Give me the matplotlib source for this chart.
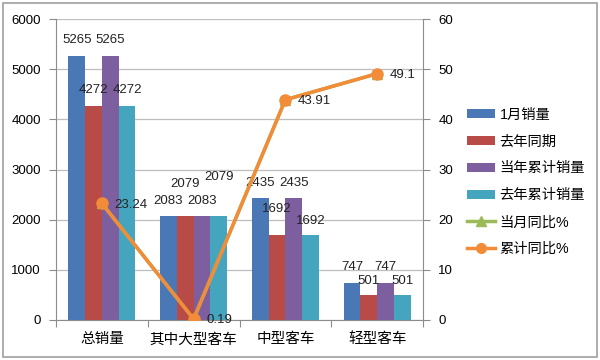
import matplotlib
matplotlib.use("Agg")
import matplotlib.pyplot as plt
from matplotlib.lines import Line2D
from matplotlib.patches import Rectangle, Patch
import numpy as np

plt.rcParams['font.family'] = ['Liberation Sans', 'Noto Sans CJK SC', 'DejaVu Sans']

categories = ['总销量', '其中大型客车', '中型客车', '轻型客车']
series_names = ['1月销量', '去年同期', '当年累计销量', '去年累计销量']
jan_sales = [5265, 2083, 2435, 747]
last_year_same = [4272, 2079, 1692, 501]
ytd_sales = [5265, 2083, 2435, 747]
last_ytd_sales = [4272, 2079, 1692, 501]
month_yoy = [23.24, 0.19, 43.91, 49.1]
cum_yoy = [23.24, 0.19, 43.91, 49.1]
line_names = ['当月同比%', '累计同比%']

bar_series = [jan_sales, last_year_same, ytd_sales, last_ytd_sales]
bar_colors = ['#4A78B6', '#B84A47', '#7D5FA0', '#45A5BF']
# label vertical offsets (data units above bar top) per series per category
label_offsets = [
    [310, 297, 305, 308],
    [308, 640, 530, 286],
    [310, 297, 305, 308],
    [308, 780, 290, 286],
]

fig = plt.figure(figsize=(6, 3.6), dpi=100)
ax = fig.add_axes([56/600, 1-320/360, (423-56)/600, (320-19)/360])

x = np.arange(len(categories))
w = 0.183
for i, (vals, col) in enumerate(zip(bar_series, bar_colors)):
    pos = x + (i - 1.5) * w
    ax.bar(pos, vals, width=w, color=col, zorder=2, linewidth=0)
    for j, (p, v) in enumerate(zip(pos, vals)):
        ax.text(p, v + label_offsets[i][j], str(v), ha='center', va='center',
                fontsize=9.5, color='#222222', zorder=5)

ax.set_xlim(-0.5, 3.5)
ax.set_ylim(0, 6000)
ax.set_yticks(range(0, 6001, 1000))
ax.yaxis.grid(True, color='#BDBDBD', linewidth=0.9, zorder=0)
ax.set_axisbelow(True)
for s in ['top', 'right']:
    ax.spines[s].set_visible(False)
ax.spines['left'].set_color('#8C8C8C')
ax.spines['bottom'].set_color('#8C8C8C')
ax.set_xticks(np.arange(-0.5, 4, 1))
ax.set_xticklabels([])
ax.set_xticks(x, minor=True)
ax.set_xticklabels(categories, minor=True, fontsize=10.5)
ax.tick_params(axis='x', which='minor', length=0, pad=9)
ax.tick_params(axis='x', which='major', length=5, color='#8C8C8C', direction='out')
ax.tick_params(axis='y', length=5, color='#8C8C8C', labelsize=9.5, pad=6)

ax2 = ax.twinx()
ax2.set_ylim(0, 60)
ax2.set_yticks(range(0, 61, 10))
for s in ['top', 'left', 'bottom']:
    ax2.spines[s].set_visible(False)
ax2.spines['right'].set_color('#8C8C8C')
ax2.tick_params(axis='y', length=5, color='#8C8C8C', labelsize=9.5, pad=6)

green = '#9BBB59'
orange = '#F28C38'
ax2.plot(x, month_yoy, color=green, linewidth=2.5, marker='^', markersize=7, zorder=3)
ax2.plot(x, cum_yoy, color=orange, linewidth=2.5, marker='o', markersize=8, zorder=4)
for xi, v in zip(x, cum_yoy):
    ax2.annotate(f'{v:g}', (xi, v), xytext=(9, -1), textcoords='offset points',
                 ha='left', va='center', fontsize=9.5, color='#222222', zorder=6)

handles = [Patch(facecolor=c, edgecolor='none') for c in bar_colors]
handles += [Line2D([], [], color=green, linewidth=2.5, marker='^', markersize=7),
            Line2D([], [], color=orange, linewidth=2.5, marker='o', markersize=7)]
leg = fig.legend(handles, series_names + line_names, loc='upper left',
                 bbox_to_anchor=(461/600, 1-102/360), frameon=False,
                 fontsize=10.3, handlelength=2.0, handleheight=0.6,
                 labelspacing=0.9, handletextpad=0.3, borderaxespad=0)

fig.patches.append(Rectangle((3/600, 3/360), 594/600, 354/360, transform=fig.transFigure,
                             fill=False, edgecolor='#A0A0A0', linewidth=1.2))

fig.savefig('out.png', dpi=100)
